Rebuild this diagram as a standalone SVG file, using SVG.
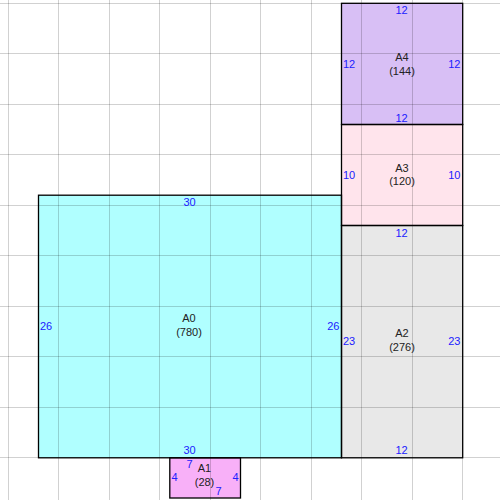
<svg xmlns="http://www.w3.org/2000/svg" width="500" height="500" viewBox="0 0 500 500">
<style>
.box{stroke:#000;stroke-width:1.3}
.grid line{stroke:#000;stroke-opacity:0.18;stroke-width:1}
text{font-family:"Liberation Sans",Arial,sans-serif;font-size:11px}
.nm{fill:#222;text-anchor:middle}
.d{fill:#2020ff}
.c{text-anchor:middle}
.l{text-anchor:start}
.r{text-anchor:end}
</style>
<rect width="500" height="500" fill="#fff"/>
<g id="fills">
<rect x="38.5" y="195.2" width="303" height="262.6" fill="#b0ffff"/>
<rect x="169.8" y="457.8" width="70.7" height="40.2" fill="#f8b0f8"/>
<rect x="341.5" y="225.5" width="121.2" height="232.3" fill="#e8e8e8"/>
<rect x="341.5" y="124.5" width="121.2" height="101" fill="#ffe4ec"/>
<rect x="341.5" y="3.3" width="121.2" height="121.2" fill="#d8bff5"/>
</g>
<g class="grid">
<line x1="8.5" y1="0" x2="8.5" y2="500"/>
<line x1="58.5" y1="0" x2="58.5" y2="500"/>
<line x1="109.5" y1="0" x2="109.5" y2="500"/>
<line x1="159.5" y1="0" x2="159.5" y2="500"/>
<line x1="210.5" y1="0" x2="210.5" y2="500"/>
<line x1="260.5" y1="0" x2="260.5" y2="500"/>
<line x1="311.5" y1="0" x2="311.5" y2="500"/>
<line x1="361.5" y1="0" x2="361.5" y2="500"/>
<line x1="412.5" y1="0" x2="412.5" y2="500"/>
<line x1="462.5" y1="0" x2="462.5" y2="500"/>
<line x1="0" y1="3.5" x2="500" y2="3.5"/>
<line x1="0" y1="53.5" x2="500" y2="53.5"/>
<line x1="0" y1="104.5" x2="500" y2="104.5"/>
<line x1="0" y1="154.5" x2="500" y2="154.5"/>
<line x1="0" y1="205.5" x2="500" y2="205.5"/>
<line x1="0" y1="255.5" x2="500" y2="255.5"/>
<line x1="0" y1="306.5" x2="500" y2="306.5"/>
<line x1="0" y1="356.5" x2="500" y2="356.5"/>
<line x1="0" y1="407.5" x2="500" y2="407.5"/>
<line x1="0" y1="457.5" x2="500" y2="457.5"/>
</g>
<g id="A0">
<rect class="box" x="38.5" y="195.2" width="303" height="262.6" fill="none"/>
<text class="nm" x="189" y="322">A0</text>
<text class="nm" x="189" y="335.5">(780)</text>
<text class="d c" x="189.5" y="206">30</text>
<text class="d c" x="189.5" y="453.5">30</text>
<text class="d l" x="40" y="330">26</text>
<text class="d r" x="339.5" y="330">26</text>
</g>
<g id="A1">
<rect class="box" x="169.8" y="457.8" width="70.7" height="40.2" fill="none"/>
<text class="nm" x="204.5" y="472">A1</text>
<text class="nm" x="204.5" y="485.5">(28)</text>
<text class="d c" x="189.5" y="468">7</text>
<text class="d c" x="218.5" y="494.5">7</text>
<text class="d l" x="171.5" y="480.5">4</text>
<text class="d r" x="238.5" y="480.5">4</text>
</g>
<g id="A2">
<rect class="box" x="341.5" y="225.5" width="121.2" height="232.3" fill="none"/>
<text class="nm" x="402" y="337">A2</text>
<text class="nm" x="402" y="350.5">(276)</text>
<text class="d c" x="401.5" y="236.5">12</text>
<text class="d c" x="401.5" y="453.5">12</text>
<text class="d l" x="343" y="345">23</text>
<text class="d r" x="460.5" y="345">23</text>
</g>
<g id="A3">
<rect class="box" x="341.5" y="124.5" width="121.2" height="101" fill="none"/>
<text class="nm" x="402" y="171.5">A3</text>
<text class="nm" x="402" y="185">(120)</text>
<text class="d l" x="343" y="179">10</text>
<text class="d r" x="460.5" y="179">10</text>
</g>
<g id="A4">
<rect class="box" x="341.5" y="3.3" width="121.2" height="121.2" fill="none"/>
<text class="nm" x="402" y="61">A4</text>
<text class="nm" x="402" y="74.5">(144)</text>
<text class="d c" x="401.5" y="14">12</text>
<text class="d c" x="401.5" y="121.5">12</text>
<text class="d l" x="343" y="68">12</text>
<text class="d r" x="460.5" y="68">12</text>
</g>
</svg>
